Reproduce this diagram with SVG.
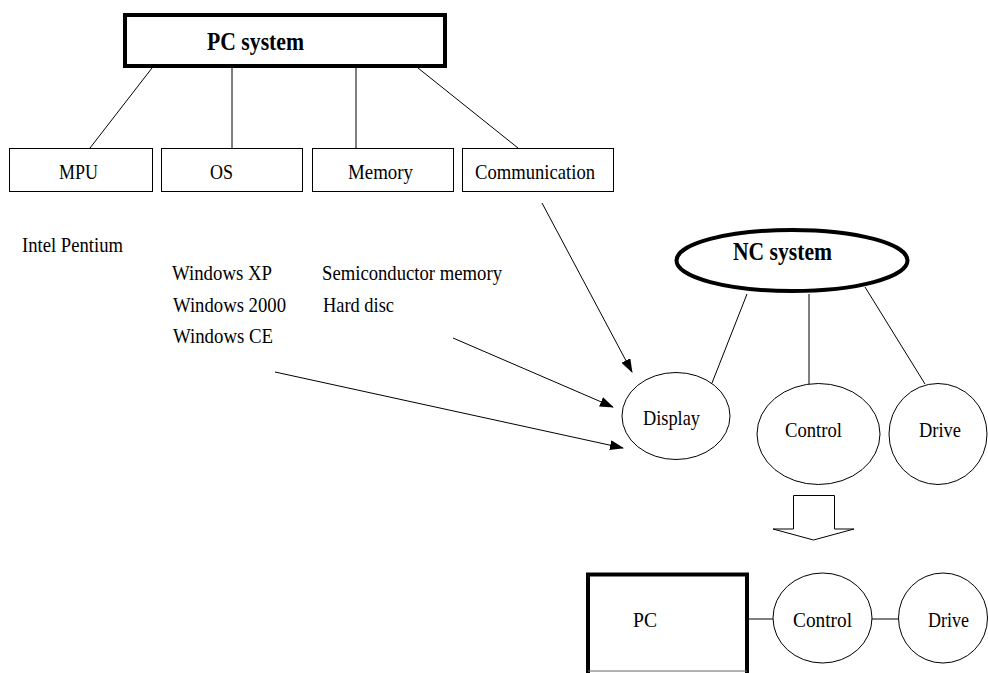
<svg xmlns="http://www.w3.org/2000/svg" width="988" height="673" viewBox="0 0 988 673">
<style>
text{font-family:"Liberation Serif","Times New Roman",serif;font-size:22px;fill:#000}
.b{font-weight:bold;font-size:25px}
.box{fill:#fff;stroke:#000;stroke-width:1}
.thick{fill:#fff;stroke:#000;stroke-width:4}
.ln{stroke:#000;stroke-width:1;fill:none}
</style>
<defs>
<marker id="ah" markerWidth="14" markerHeight="10" refX="13" refY="5" orient="auto" markerUnits="userSpaceOnUse">
<path d="M0,0 L14,5 L0,10 Z" fill="#000"/>
</marker>
</defs>
<g id="connectors">
<line class="ln" x1="152" y1="68" x2="90" y2="148"/>
<line class="ln" x1="232" y1="68" x2="232" y2="148"/>
<line class="ln" x1="356" y1="68" x2="356" y2="148"/>
<line class="ln" x1="418" y1="68" x2="518" y2="148"/>
<line class="ln" x1="747" y1="294" x2="712" y2="383"/>
<line class="ln" x1="809" y1="294" x2="809" y2="384"/>
<line class="ln" x1="865" y1="287" x2="925" y2="384"/>
<line class="ln" x1="542" y1="203" x2="632" y2="372" marker-end="url(#ah)" stroke-width="1.2"/>
<line class="ln" x1="453" y1="338" x2="613" y2="407" marker-end="url(#ah)" stroke-width="1.2"/>
<line class="ln" x1="275" y1="372" x2="623" y2="448" marker-end="url(#ah)" stroke-width="1.2"/>
<line class="ln" x1="749" y1="619" x2="773" y2="619"/>
<line class="ln" x1="872" y1="619" x2="898" y2="619"/>
</g>
<g id="pc-system">
<rect class="thick" x="125" y="15" width="320" height="51"/>
<text class="b" x="207" y="50" textLength="97" lengthAdjust="spacingAndGlyphs">PC system</text>
</g>
<g id="mpu">
<rect class="box" x="9.5" y="148.5" width="143" height="43"/>
<text x="59" y="179" textLength="39" lengthAdjust="spacingAndGlyphs">MPU</text>
</g>
<g id="os">
<rect class="box" x="161.5" y="148.5" width="141" height="43"/>
<text x="210" y="179" textLength="23" lengthAdjust="spacingAndGlyphs">OS</text>
</g>
<g id="memory">
<rect class="box" x="312.5" y="148.5" width="141" height="43"/>
<text x="348" y="179" textLength="65" lengthAdjust="spacingAndGlyphs">Memory</text>
</g>
<g id="communication">
<rect class="box" x="462.5" y="148.5" width="151" height="43"/>
<text x="475" y="179" textLength="120" lengthAdjust="spacingAndGlyphs">Communication</text>
</g>
<g id="labels">
<text x="22" y="252" textLength="101" lengthAdjust="spacingAndGlyphs">Intel Pentium</text>
<text x="172" y="280" textLength="100" lengthAdjust="spacingAndGlyphs">Windows XP</text>
<text x="322" y="280" textLength="180" lengthAdjust="spacingAndGlyphs">Semiconductor memory</text>
<text x="173" y="312" textLength="113" lengthAdjust="spacingAndGlyphs">Windows 2000</text>
<text x="323" y="312" textLength="71" lengthAdjust="spacingAndGlyphs">Hard disc</text>
<text x="173" y="343" textLength="100" lengthAdjust="spacingAndGlyphs">Windows CE</text>
</g>
<g id="nc-system">
<ellipse class="thick" cx="792" cy="260.5" rx="115.5" ry="30.5"/>
<text class="b" x="733" y="260" textLength="99" lengthAdjust="spacingAndGlyphs">NC system</text>
</g>
<g id="display">
<ellipse class="box" cx="676" cy="416" rx="54" ry="43.5"/>
<text x="643" y="425" textLength="57" lengthAdjust="spacingAndGlyphs">Display</text>
</g>
<g id="control">
<ellipse class="box" cx="818.5" cy="434" rx="61.5" ry="50.5"/>
<text x="785" y="437" textLength="57" lengthAdjust="spacingAndGlyphs">Control</text>
</g>
<g id="drive">
<ellipse class="box" cx="938" cy="434" rx="49" ry="50.5"/>
<text x="919" y="437" textLength="42" lengthAdjust="spacingAndGlyphs">Drive</text>
</g>
<g id="transform-arrow">
<polygon class="box" points="793.5,495.5 834.5,495.5 834.5,529 854,529 813.5,540 773,529 793.5,529"/>
</g>
<g id="pc">
<path d="M588,673 V574.5 H747 V673" fill="#fff" stroke="#000" stroke-width="4"/>
<line x1="588" y1="671" x2="747" y2="671" stroke="#666" stroke-width="1"/>
<text x="633" y="627" textLength="24" lengthAdjust="spacingAndGlyphs">PC</text>
</g>
<g id="control2">
<ellipse class="box" cx="822.5" cy="618" rx="49.5" ry="45"/>
<text x="793" y="627" textLength="59" lengthAdjust="spacingAndGlyphs">Control</text>
</g>
<g id="drive2">
<ellipse class="box" cx="943" cy="618" rx="44.5" ry="45"/>
<text x="928" y="627" textLength="41" lengthAdjust="spacingAndGlyphs">Drive</text>
</g>
</svg>
